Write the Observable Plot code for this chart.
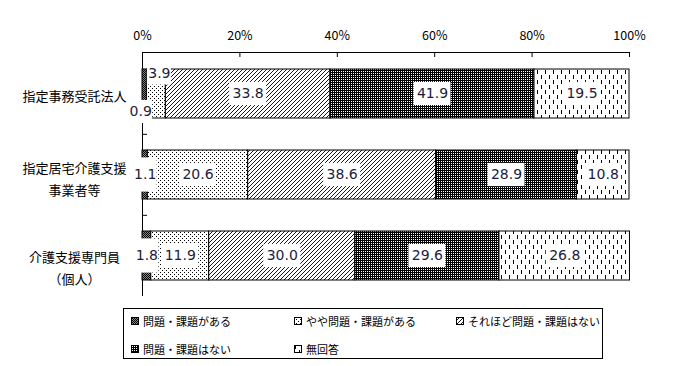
<!DOCTYPE html>
<html><head><meta charset="utf-8">
<script src="https://cdn.jsdelivr.net/npm/d3@7"></script>
<script src="https://cdn.jsdelivr.net/npm/@observablehq/plot@0.6"></script>
<style>
body{margin:0;background:#fff;font-family:"Noto Sans CJK JP",sans-serif;}
#wrap{position:relative;width:689px;height:366px;}
#legend{position:absolute;left:123px;top:308px;width:480px;height:51px;border:1px solid #000;box-sizing:border-box;}
.item{position:absolute;height:14px;line-height:14px;font-size:11px;color:#000;white-space:nowrap;}
.item svg{position:absolute;left:0;top:3px;}
.item span{position:absolute;left:12px;top:0;}
</style></head>
<body>
<svg width="0" height="0" style="position:absolute">
<defs>
<pattern id="p0" width="2" height="2" patternUnits="userSpaceOnUse"><rect width="2" height="2" fill="#888"/><rect width="1" height="1" fill="#000"/><rect x="1" y="1" width="1" height="1" fill="#000"/></pattern>
<pattern id="p1" width="4" height="4" patternUnits="userSpaceOnUse"><rect width="4" height="4" fill="#fff"/><rect width="1" height="1" fill="#000"/><rect x="2" y="2" width="1" height="1" fill="#000"/></pattern>
<pattern id="p2" width="4" height="4" patternUnits="userSpaceOnUse"><rect width="4" height="4" fill="#fff"/><path d="M-1,5 L5,-1 M-1,1 L1,-1 M3,5 L5,3" stroke="#000" stroke-width="0.9"/></pattern>
<pattern id="p3" width="2" height="2" patternUnits="userSpaceOnUse"><rect width="2" height="2" fill="#000"/><rect x="1" y="1" width="1" height="1" fill="#fff"/></pattern>
<pattern id="p4" width="8" height="10" patternUnits="userSpaceOnUse"><rect width="8" height="10" fill="#fff"/><rect x="1" y="0" width="1" height="4" fill="#000"/><rect x="5" y="5" width="1" height="4" fill="#000"/></pattern>
</defs>
</svg>
<div id="wrap">
<div id="chart"></div>
<div id="legend"></div>
</div>
<script>
const categories = ["指定事務受託法人", "指定居宅介護支援事業者等", "介護支援専門員（個人）"];
const categoryLabels = ["指定事務受託法人", "指定居宅介護支援\n事業者等", "介護支援専門員\n（個人）"];
const series = ["問題・課題がある", "やや問題・課題がある", "それほど問題・課題はない", "問題・課題はない", "無回答"];
const values = [
  [0.9, 3.9, 33.8, 41.9, 19.5],
  [1.1, 20.6, 38.6, 28.9, 10.8],
  [1.8, 11.9, 30.0, 29.6, 26.8]
];
const xTicks = [0, 20, 40, 60, 80, 100];

const patterns = ["url(#p0)", "url(#p1)", "url(#p2)", "url(#p3)", "url(#p4)"];

const data = [];
categories.forEach((c, i) => {
  let cum = 0;
  series.forEach((s, j) => {
    const v = values[i][j];
    data.push({cat: c, ci: i, sj: j, series: s, value: v, x1: cum, x2: cum + v, mid: cum + v / 2, label: v.toFixed(1)});
    cum += v;
  });
});

const W = 689, H = 300, mL = 142, mR = 60, mT = 52, mB = 4;
const pxPerPct = (W - mL - mR) / 100;
const step = (H - mT - mB) / 3;
const bw = step * 0.6;
const hw = d => (d.label.length >= 4 ? 18.5 : 12) / pxPerPct;

const isOff0 = d => d.ci === 0 && d.sj === 0;
const isOff1 = d => d.ci === 0 && d.sj === 1;
const isTall = d => d.ci > 0 && d.sj === 0;
const isNormal = d => !isOff0(d) && !isOff1(d) && !isTall(d);

const boxH = 23, tallH = 34;
const box = (filter, h, extra = {}) => Plot.barX(data.filter(filter), {
  x1: d => d.mid - hw(d), x2: d => d.mid + hw(d), y: "cat", fill: "white",
  insetTop: (bw - h) / 2, insetBottom: (bw - h) / 2, ...extra
});
const label = (filter, extra = {}) => Plot.text(data.filter(filter), {
  x: "mid", y: "cat", text: "label", fill: "#1c1c3c", fontFamily: "DejaVu Sans", fontSize: 14, ...extra
});
const catText = (idx, dy) => Plot.text([categories[idx]], {
  y: d => d, text: () => categoryLabels[idx], frameAnchor: "left", dx: -68, dy,
  textAnchor: "middle", lineAnchor: "middle", lineHeight: 1.7, fontSize: 13, fill: "#000",
  fontFamily: "Noto Sans CJK JP"
});

const chart = Plot.plot({
  width: W, height: H, marginLeft: mL, marginRight: mR, marginTop: mT, marginBottom: mB,
  style: {fontFamily: "Noto Sans CJK JP", fontSize: "12.5px", background: "#fff", color: "#000", overflow: "visible"},
  x: {domain: [0, 100], axis: "top", ticks: xTicks, tickFormat: d => d + "%", tickSize: 0, tickPadding: 13, line: true, label: null},
  y: {domain: categories, paddingInner: 0.4, paddingOuter: 0.2, axis: null},
  color: {domain: series, range: patterns},
  marks: [
    Plot.ruleX([0], {stroke: "#000"}),
    Plot.ruleX(xTicks, {x: d => d, insetBottom: H - mT - mB - 5, stroke: "#000"}),
    Plot.ruleY(categories.slice(1), {y: d => d, x1: 0, x2: 5 / pxPerPct, dy: -step / 2, stroke: "#000"}),
    Plot.barX(data, {x1: "x1", x2: "x2", y: "cat", fill: "series", stroke: "#000", strokeWidth: 1}),
    box(isNormal, boxH),
    box(isTall, tallH),
    box(isOff0, boxH, {dx: -4, dy: 18}),
    box(isOff1, 22, {dx: 3, dy: -20}),
    label(isNormal),
    label(isTall),
    label(isOff0, {dx: -4, dy: 18}),
    label(isOff1, {dx: 3, dy: -20}),
    catText(0, 0),
    catText(1, 2),
    catText(2, 10)
  ]
});
document.getElementById("chart").appendChild(chart);

// legend
const legend = document.getElementById("legend");
const cols = [7, 170, 332];
const rows = [5, 33];
series.forEach((s, j) => {
  const div = document.createElement("div");
  div.className = "item";
  div.style.left = cols[j % 3] + "px";
  div.style.top = rows[Math.floor(j / 3)] + "px";
  div.innerHTML = `<svg width="8" height="8"><rect x="0.5" y="0.5" width="7" height="7" fill="${patterns[j]}" stroke="#000" stroke-width="1"/></svg><span>${s}</span>`;
  legend.appendChild(div);
});
</script>
</body></html>
